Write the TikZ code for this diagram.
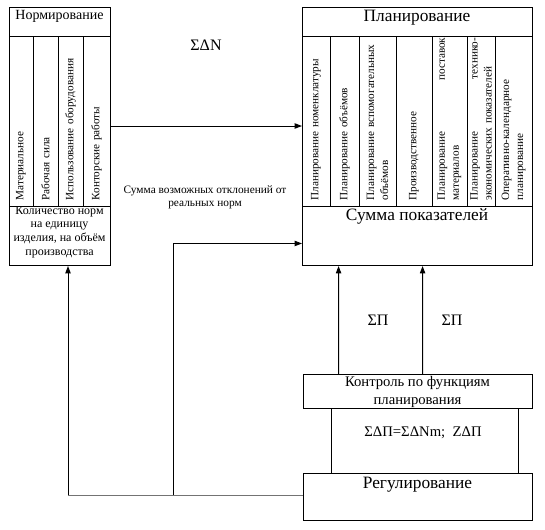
\documentclass[tikz,border=0pt]{standalone}
\usepackage{fontspec}
\setmainfont{Liberation Serif}
\usetikzlibrary{arrows.meta}

\tikzset{every picture/.style={line width=0.75pt}}
\tikzset{
	box/.style={draw, inner sep=0pt, anchor=north west},
	coltext/.style={rotate=90, text width=122pt, align=left, inner sep=0pt, font=\fontsize{8.4}{10.5}\selectfont},
	arr/.style={-{Triangle[length=5.5pt,width=4pt]}}
}

\begin{document}
\begin{tikzpicture}[x=0.75pt,y=0.75pt,yscale=-1,xscale=1]
	\useasboundingbox (0,0) rectangle (545,529);
	
	%Shape: Rectangle [Нормирование]
	\node[box, minimum width=75.75pt, minimum height=21.75pt] (normTitle) at (9,7) {};
	\node[box, minimum width=75.75pt, minimum height=127.5pt] (normCols) at (9,36) {};
	\node[box, minimum width=75.75pt, minimum height=44.25pt] (normSum) at (9,206) {};
	\foreach \x in {33,58,83} \draw (\x,36) -- (\x,206);
	
	%Shape: Rectangle [Планирование]
	\node[box, minimum width=172.5pt, minimum height=21.75pt] (planTitle) at (302,7) {};
	\node[box, minimum width=172.5pt, minimum height=127.5pt] (planCols) at (302,36) {};
	\node[box, minimum width=172.5pt, minimum height=44.25pt] (planSum) at (302,206) {};
	\foreach \x in {330,359,396,432,467,495} \draw (\x,36) -- (\x,206);
	
	%Shape: Rectangle [Контроль, Регулирование]
	\node[box, minimum width=171.75pt, minimum height=25.5pt] (kontrol) at (303,374) {};
	\node[box, minimum width=140.25pt, minimum height=48.75pt] (delta) at (331,408) {};
	\node[box, minimum width=171.75pt, minimum height=35.25pt] (regul) at (303,473) {};
	
	%Straight Lines
	\draw[arr] (normCols.east |- 0,126) -- (planCols.west |- 0,126);
	\coordinate (corner) at (68,495);
	\coordinate (tap) at (173,495);
	\draw[draw=black!55] (regul.west |- corner) -- (corner);
	\draw[arr] (corner) -- (corner |- normSum.south);
	\draw[arr] (tap) |- ([yshift=5.6pt]planSum.west);
	\draw[arr] ([xshift=-59.6pt]kontrol.north) -- ([xshift=-59.2pt]planSum.south);
	\draw[arr] ([xshift=3.4pt]kontrol.north) -- ([xshift=3.8pt]planSum.south);
	
	% Text Node
	\node[font=\fontsize{10.5}{12}\selectfont] (tNorm) at (59.5,16) {Нормирование};
	\node[coltext] (tMat) at (21,119) {Материальное};
	\node[coltext] (tRab) at (45.5,119) {Рабочая сила};
	\node[coltext] (tIsp) at (70.5,119) {Использование оборудования};
	\node[coltext] (tKon) at (96.5,119) {Конторские работы};
	\node[align=center, inner sep=0pt, font=\fontsize{9}{10.3}\selectfont] (tKol) at (59.5,232) {Количество норм\\на единицу\\изделия, на объём\\производства};
	
	% Text Node
	\node[font=\fontsize{13}{15}\selectfont] (tPlan) at (417,18) {Планирование};
	\node[coltext] (tNom) at (316,119) {Планирование номенклатуры};
	\node[coltext] (tObj) at (344.5,119) {Планирование объёмов};
	\node[coltext] (tVsp) at (377.5,119) {Планирование вспомогательных\\объёмов};
	\node[coltext] (tPro) at (414,119) {Производственное};
	\node[coltext] (tPos) at (449.5,119) {Планирование \hfill поставок\\материалов};
	\node[coltext] (tTeh) at (481,119) {Планирование \hfill технико-\\экономических показателей};
	\node[coltext] (tOpe) at (513.5,119) {Оперативно-календарное\\планирование};
	\node[font=\fontsize{13}{15}\selectfont] (tSum) at (417,216) {Сумма показателей};
	
	% Text Node
	\node[font=\fontsize{12}{14}\selectfont] (tDN) at (206,45) {ΣΔN};
	\node[align=center, inner sep=0pt, font=\fontsize{8.5}{10}\selectfont] (tOtk) at (205,197) {Сумма возможных отклонений от\\реальных норм};
	\node[font=\fontsize{12}{14}\selectfont] (tP1) at (378,320) {ΣП};
	\node[font=\fontsize{12}{14}\selectfont] (tP2) at (452,320) {ΣП};
	\node[align=center, inner sep=0pt, font=\fontsize{11}{14}\selectfont] (tKontr) at (417.5,392) {Контроль по функциям\\планирования};
	\node[font=\fontsize{11}{13}\selectfont] (tDelta) at (423,433) {ΣΔП=ΣΔNm;\ \ ZΔП};
	\node[font=\fontsize{13}{15}\selectfont] (tReg) at (417.5,485) {Регулирование};
	
\end{tikzpicture}
\end{document}
